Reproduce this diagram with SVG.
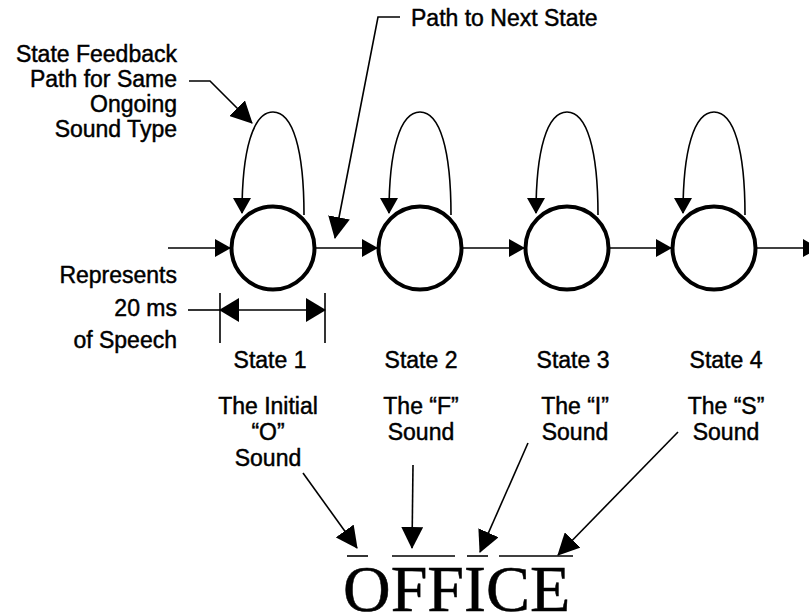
<svg xmlns="http://www.w3.org/2000/svg" width="809" height="615" viewBox="0 0 809 615">
<style>
.t{font-family:"Liberation Sans",Arial,sans-serif;font-size:23px;fill:#000;stroke:#000;stroke-width:0.45}
.m{text-anchor:middle}
.e{text-anchor:end}
.st{fill:#fff;stroke:#000;stroke-width:4}
.ln{fill:none;stroke:#000;stroke-width:1.6}
.big{font-family:"Liberation Serif","Times New Roman",serif;font-size:66px;fill:#000;stroke:#000;stroke-width:0.5}
</style>
<defs>
<marker id="ah" markerUnits="userSpaceOnUse" markerWidth="16" markerHeight="18" viewBox="0 0 16 18" refX="15" refY="9" orient="auto">
<path d="M0,0 L16,9 L0,18 z" fill="#000"/>
</marker>
<marker id="ab" markerUnits="userSpaceOnUse" markerWidth="20" markerHeight="24" viewBox="0 0 20 24" refX="19" refY="12" orient="auto-start-reverse">
<path d="M0,0 L20,12 L0,24 z" fill="#000"/>
</marker>
<marker id="al" markerUnits="userSpaceOnUse" markerWidth="22" markerHeight="22" viewBox="0 0 22 22" refX="21" refY="11" orient="auto">
<path d="M0,0 L22,11 L0,22 z" fill="#000"/>
</marker>
</defs>
<rect width="809" height="615" fill="#fff"/>

<g id="connectors">
<line class="ln" x1="168" y1="248" x2="230" y2="248" marker-end="url(#ah)"/>
<line class="ln" x1="316" y1="248" x2="377" y2="248" marker-end="url(#ah)"/>
<line class="ln" x1="463" y1="248" x2="524" y2="248" marker-end="url(#ah)"/>
<line class="ln" x1="610" y1="248" x2="671" y2="248" marker-end="url(#ah)"/>
<line class="ln" x1="757" y1="248" x2="818" y2="248" marker-end="url(#ah)"/>
<path class="ln" d="M304,215 C304,150 293,112 273,112 C253,112 242,150 242,213" marker-end="url(#ah)"/>
<path class="ln" d="M451,215 C451,150 440,112 420,112 C400,112 389,150 389,213" marker-end="url(#ah)"/>
<path class="ln" d="M598,215 C598,150 587,112 567,112 C547,112 536,150 536,213" marker-end="url(#ah)"/>
<path class="ln" d="M745,215 C745,150 734,112 714,112 C694,112 683,150 683,213" marker-end="url(#ah)"/>
<polyline class="ln" points="400,17 378,17 335,238" marker-end="url(#al)"/>
<polyline class="ln" points="189,81 210,81 252,123" marker-end="url(#al)"/>
<line class="ln" x1="220" y1="293" x2="220" y2="343"/>
<line class="ln" x1="325" y1="293" x2="325" y2="343"/>
<line class="ln" x1="188" y1="310" x2="220" y2="310"/>
<line class="ln" x1="220" y1="310" x2="325" y2="310" marker-start="url(#ab)" marker-end="url(#ab)"/>
<line class="ln" x1="303" y1="473" x2="357" y2="548" marker-end="url(#al)"/>
<line class="ln" x1="413" y1="465" x2="412" y2="548" marker-end="url(#al)"/>
<line class="ln" x1="528" y1="443" x2="480" y2="552" marker-end="url(#al)"/>
<line class="ln" x1="678" y1="432" x2="558" y2="555" marker-end="url(#al)"/>
</g>

<g id="state1"><circle class="st" cx="273" cy="248" r="41.5"/></g>
<g id="state2"><circle class="st" cx="420" cy="248" r="41.5"/></g>
<g id="state3"><circle class="st" cx="567" cy="248" r="41.5"/></g>
<g id="state4"><circle class="st" cx="714" cy="248" r="41.5"/></g>

<g id="label-next">
<text class="t" x="411" y="26">Path to Next State</text>
</g>
<g id="label-feedback">
<text class="t e" x="177" y="62">State Feedback</text>
<text class="t e" x="177" y="87">Path for Same</text>
<text class="t e" x="177" y="112">Ongoing</text>
<text class="t e" x="177" y="137">Sound Type</text>
</g>
<g id="label-duration">
<text class="t e" x="177" y="283">Represents</text>
<text class="t e" x="177" y="316">20 ms</text>
<text class="t e" x="177" y="348">of Speech</text>
</g>
<g id="state-names">
<text class="t m" x="270" y="368">State 1</text>
<text class="t m" x="421" y="368">State 2</text>
<text class="t m" x="573" y="368">State 3</text>
<text class="t m" x="726" y="368">State 4</text>
</g>
<g id="sound-labels">
<text class="t m" x="268" y="414">The Initial</text>
<text class="t m" x="268" y="440">“O”</text>
<text class="t m" x="268" y="466">Sound</text>
<text class="t m" x="421" y="414">The “F”</text>
<text class="t m" x="421" y="440">Sound</text>
<text class="t m" x="575" y="414">The “I”</text>
<text class="t m" x="575" y="440">Sound</text>
<text class="t m" x="726" y="414">The “S”</text>
<text class="t m" x="726" y="440">Sound</text>
</g>
<g id="word">
<line class="ln" x1="347" y1="556" x2="368" y2="556"/>
<line class="ln" x1="392" y1="556" x2="455" y2="556"/>
<line class="ln" x1="467" y1="556" x2="488" y2="556"/>
<line class="ln" x1="499" y1="556" x2="573" y2="556"/>
<text class="big" x="343" y="611">OFFICE</text>
</g>
</svg>
